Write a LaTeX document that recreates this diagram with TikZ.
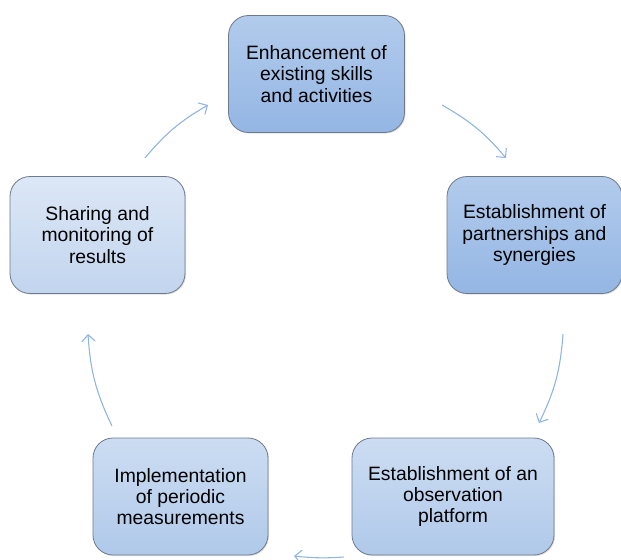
\documentclass[tikz,border=0pt]{standalone}
\usepackage{fontspec}
\setmainfont{Liberation Sans}
\usetikzlibrary{arrows.meta,shadows}
\definecolor{darkTop}{RGB}{178,203,236}
\definecolor{darkBot}{RGB}{148,182,228}
\definecolor{midTop}{RGB}{204,221,242}
\definecolor{midBot}{RGB}{176,201,234}
\definecolor{liteTop}{RGB}{220,231,246}
\definecolor{liteBot}{RGB}{194,213,238}
\definecolor{boxline}{RGB}{110,122,140}
\definecolor{arrowblue}{RGB}{141,180,226}
\tikzset{
  stagebox/.style={draw=boxline, line width=0.6pt, rounded corners=15pt,
    minimum width=132pt, minimum height=87.75pt, align=center,
    font=\fontsize{14.5}{15.9}\selectfont,
    drop shadow={opacity=0.25, shadow xshift=0.8pt, shadow yshift=-0.8pt}},
  darkbox/.style={stagebox, top color=darkTop, bottom color=darkBot},
  midbox/.style={stagebox, top color=midTop, bottom color=midBot},
  litebox/.style={stagebox, top color=liteTop, bottom color=liteBot},
  cyclearrow/.style={draw=arrowblue, line width=0.8pt,
    -{Straight Barb[length=5pt,width=10pt,line width=0.8pt]}}
}
\begin{document}
\begin{tikzpicture}[x=0.75pt,y=-0.75pt]
\useasboundingbox (0,0) rectangle (621,560);
\node[darkbox] (A) at (316.5,74) {Enhancement of\\existing skills\\and activities};
\node[darkbox, minimum width=131.25pt] (B) at (534.5,235) {Establishment of\\partnerships and\\synergies};
\node[midbox, minimum width=151.5pt] (C) at (453,496.5) {Establishment of an\\observation\\platform};
\node[midbox, minimum width=131.25pt] (D) at (180.5,496.5) {Implementation\\of periodic\\measurements};
\node[litebox, minimum width=131.25pt] (E) at (97.5,235) {Sharing and\\monitoring of\\results};

\coordinate (a1) at (442,105);
\coordinate (a2) at (506,158);
\coordinate (b1) at (563,334);
\coordinate (b2) at (539,423);
\coordinate (c1) at (344,557);
\coordinate (c2) at (294,556);
\coordinate (d1) at (112,426);
\coordinate (d2) at (88,334);
\coordinate (e1) at (145,158);
\coordinate (e2) at (208,105);

\draw[cyclearrow] (a1) to[bend left=10] (a2);
\draw[cyclearrow] (b1) to[bend left=11] (b2);
\draw[cyclearrow] (c1) to[bend left=5] (c2);
\draw[cyclearrow] (d1) to[bend left=11] (d2);
\draw[cyclearrow] (e1) to[bend left=10] (e2);
\end{tikzpicture}
\end{document}
